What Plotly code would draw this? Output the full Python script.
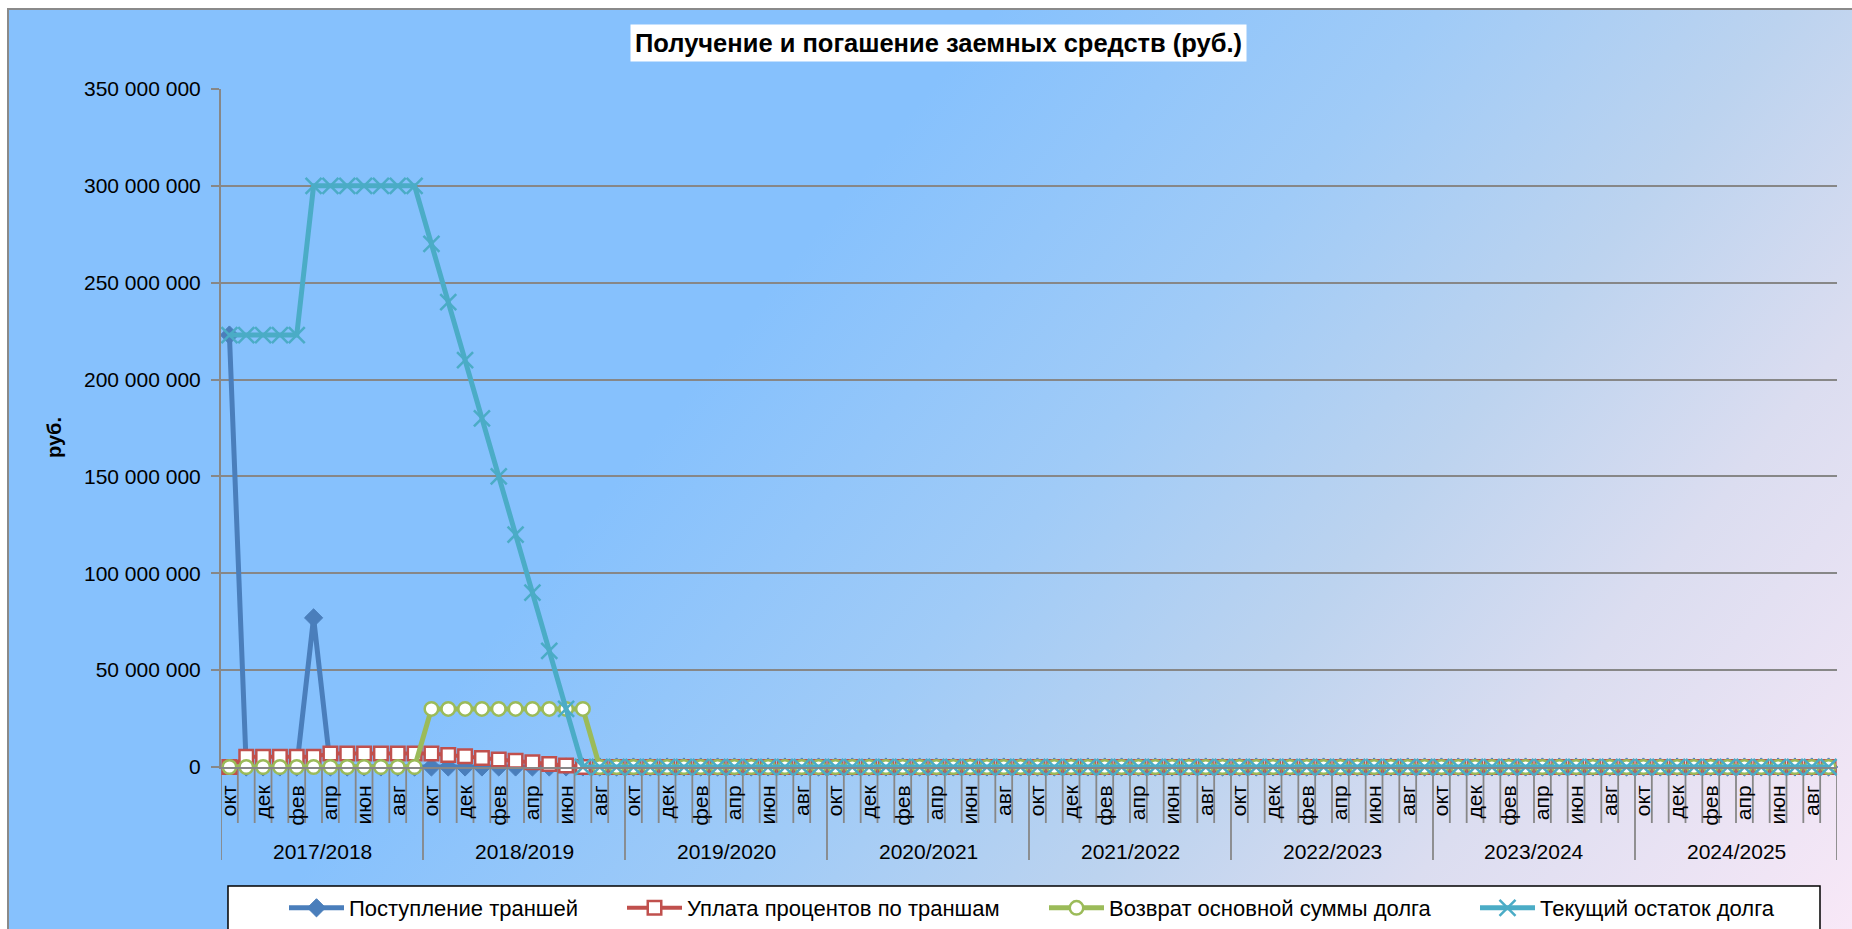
import base64
import numpy as np
import plotly.graph_objects as go

# ---------------- data ----------------
years = ["2017/2018", "2018/2019", "2019/2020", "2020/2021",
         "2021/2022", "2022/2023", "2023/2024", "2024/2025"]
months = ["окт", "ноя", "дек", "янв", "фев", "мар",
          "апр", "май", "июн", "июл", "авг", "сен"]
months_shown = ["окт", "дек", "фев", "апр", "июн", "авг"]

# Поступление траншей (руб.), one row per year (окт..сен)
tranches = [
    [223000000, 0, 0, 0, 0, 77000000, 0, 0, 0, 0, 0, 0],
    [0, 0, 0, 0, 0, 0, 0, 0, 0, 0, 0, 0],
    [0, 0, 0, 0, 0, 0, 0, 0, 0, 0, 0, 0],
    [0, 0, 0, 0, 0, 0, 0, 0, 0, 0, 0, 0],
    [0, 0, 0, 0, 0, 0, 0, 0, 0, 0, 0, 0],
    [0, 0, 0, 0, 0, 0, 0, 0, 0, 0, 0, 0],
    [0, 0, 0, 0, 0, 0, 0, 0, 0, 0, 0, 0],
    [0, 0, 0, 0, 0, 0, 0, 0, 0, 0, 0, 0],
]
# Уплата процентов по траншам
interest = [
    [0, 5300000, 5300000, 5300000, 5300000, 5300000,
     7000000, 7000000, 7000000, 7000000, 7000000, 7000000],
    [7000000, 6200000, 5500000, 4700000, 3900000, 3200000,
     2400000, 1600000, 800000, 0, 0, 0],
    [0, 0, 0, 0, 0, 0, 0, 0, 0, 0, 0, 0],
    [0, 0, 0, 0, 0, 0, 0, 0, 0, 0, 0, 0],
    [0, 0, 0, 0, 0, 0, 0, 0, 0, 0, 0, 0],
    [0, 0, 0, 0, 0, 0, 0, 0, 0, 0, 0, 0],
    [0, 0, 0, 0, 0, 0, 0, 0, 0, 0, 0, 0],
    [0, 0, 0, 0, 0, 0, 0, 0, 0, 0, 0, 0],
]
# Возврат основной суммы долга
principal = [
    [0, 0, 0, 0, 0, 0, 0, 0, 0, 0, 0, 0],
    [30000000, 30000000, 30000000, 30000000, 30000000, 30000000,
     30000000, 30000000, 30000000, 30000000, 0, 0],
    [0, 0, 0, 0, 0, 0, 0, 0, 0, 0, 0, 0],
    [0, 0, 0, 0, 0, 0, 0, 0, 0, 0, 0, 0],
    [0, 0, 0, 0, 0, 0, 0, 0, 0, 0, 0, 0],
    [0, 0, 0, 0, 0, 0, 0, 0, 0, 0, 0, 0],
    [0, 0, 0, 0, 0, 0, 0, 0, 0, 0, 0, 0],
    [0, 0, 0, 0, 0, 0, 0, 0, 0, 0, 0, 0],
]
# Текущий остаток долга
balance = [
    [223000000, 223000000, 223000000, 223000000, 223000000, 300000000,
     300000000, 300000000, 300000000, 300000000, 300000000, 300000000],
    [270000000, 240000000, 210000000, 180000000, 150000000, 120000000,
     90000000, 60000000, 30000000, 0, 0, 0],
    [0, 0, 0, 0, 0, 0, 0, 0, 0, 0, 0, 0],
    [0, 0, 0, 0, 0, 0, 0, 0, 0, 0, 0, 0],
    [0, 0, 0, 0, 0, 0, 0, 0, 0, 0, 0, 0],
    [0, 0, 0, 0, 0, 0, 0, 0, 0, 0, 0, 0],
    [0, 0, 0, 0, 0, 0, 0, 0, 0, 0, 0, 0],
    [0, 0, 0, 0, 0, 0, 0, 0, 0, 0, 0, 0],
]

series_names = ["Поступление траншей", "Уплата процентов по траншам",
                "Возврат основной суммы долга", "Текущий остаток долга"]
title_text = "Получение и погашение заемных средств (руб.)"
y_title = "руб."

# ---------------- geometry ----------------
W, H = 1852, 929
L, R, T, B = 221, 15, 89, 162
PW = W - L - R
PH = H - T - B


def pxx(X):
    return (X - L) / PW


def pxy(Y):
    return (H - B - Y) / PH


def flat(rows):
    return [v for row in rows for v in row]


cat_months = [m for _ in years for m in months]
n = len(cat_months)
x = np.arange(n)
tickvals = [i for i, m in enumerate(cat_months) if m in months_shown]
ticktext = [cat_months[i] for i in tickvals]

FONT = "Liberation Sans, Arial, sans-serif"
GRAY = "#878787"

# ---------------- background (gradient) ----------------
svg = (
    '<svg xmlns="http://www.w3.org/2000/svg" width="1852" height="929" '
    'viewBox="0 0 1852 929" preserveAspectRatio="none">'
    '<defs><linearGradient id="g" gradientUnits="userSpaceOnUse" '
    'x1="610" y1="488" x2="1585" y2="1268">'
    '<stop offset="0" stop-color="rgb(134,193,253)"/>'
    '<stop offset="0.28" stop-color="rgb(160,203,247)"/>'
    '<stop offset="0.5" stop-color="rgb(188,211,239)"/>'
    '<stop offset="0.7" stop-color="rgb(219,221,240)"/>'
    '<stop offset="1" stop-color="rgb(248,232,247)"/>'
    '</linearGradient></defs>'
    '<rect x="0" y="0" width="1852" height="929" fill="white"/>'
    '<rect x="8" y="9" width="1850" height="925" fill="url(#g)"/>'
    '<path d="M8,929 V9 H1852" stroke="#8a8a8a" stroke-width="2" fill="none"/>'
    '</svg>'
)
svg_uri = "data:image/svg+xml;base64," + base64.b64encode(svg.encode("utf-8")).decode("ascii")

fig = go.Figure()

styles = [
    dict(line=dict(color="#4A7EBB", width=5),
         marker=dict(symbol="diamond", size=14, color="#4A7EBB",
                     line=dict(color="#4A7EBB", width=1))),
    dict(line=dict(color="#C0504D", width=4),
         marker=dict(symbol="square", size=13.5, color="white",
                     line=dict(color="#C0504D", width=2.5))),
    dict(line=dict(color="#9BBB59", width=5),
         marker=dict(symbol="circle", size=13.5, color="white",
                     line=dict(color="#9BBB59", width=2.5))),
    dict(line=dict(color="#4BACC6", width=5),
         marker=dict(symbol="x-thin", size=16, color="#4BACC6",
                     line=dict(color="#4BACC6", width=2.5))),
]
data_rows = [tranches, interest, principal, balance]
legend_ids = ["legend", "legend2", "legend3", "legend4"]

for name, rows, st, lg in zip(series_names, data_rows, styles, legend_ids):
    fig.add_trace(go.Scatter(
        x=x, y=flat(rows), name=name, mode="lines+markers",
        line=st["line"], marker=st["marker"], cliponaxis=False,
        legend=lg, hoverinfo="y"))

# separators under the category axis
shapes = []
for b in range(n + 1):
    is_year = (b % len(months) == 0)
    shapes.append(dict(
        type="line", xref="x", yref="paper", layer="below",
        x0=b - 0.5, x1=b - 0.5, y0=0, y1=pxy(860 if is_year else 823),
        line=dict(color=GRAY, width=1.8)))
# legend frame
shapes.append(dict(type="rect", xref="paper", yref="paper", layer="below",
                   x0=pxx(228), x1=pxx(1820), y0=pxy(886), y1=pxy(945),
                   fillcolor="white", line=dict(color="black", width=1.5)))

annotations = []
for k, yname in enumerate(years):
    annotations.append(dict(
        x=k * len(months) + (len(months) - 1) / 2, xref="x",
        y=pxy(851), yref="paper", text=yname, showarrow=False,
        xanchor="center", yanchor="middle",
        font=dict(family=FONT, size=21, color="black")))
annotations.append(dict(
    x=pxx(938), y=pxy(43), xref="paper", yref="paper",
    text="<b>" + title_text + "</b>", showarrow=False,
    xanchor="center", yanchor="middle", bgcolor="white", borderpad=4,
    font=dict(family=FONT, size=25.5, color="black")))
annotations.append(dict(
    x=pxx(54), y=pxy(438), xref="paper", yref="paper",
    text="<b>" + y_title + "</b>", showarrow=False, textangle=-90,
    xanchor="center", yanchor="middle",
    font=dict(family=FONT, size=20, color="black")))

legend_x = [284, 622, 1044, 1475]
legend_common = dict(orientation="h", bgcolor="rgba(0,0,0,0)", borderwidth=0,
                     itemwidth=55, xanchor="left", yanchor="middle",
                     font=dict(family=FONT, size=22, color="black"))

layout_legends = {}
for lg, lx in zip(legend_ids, legend_x):
    layout_legends[lg] = dict(x=pxx(lx), y=pxy(908), **legend_common)

fig.update_layout(
    width=W, height=H,
    margin=dict(l=L, r=R, t=T, b=B, autoexpand=False),
    paper_bgcolor="white", plot_bgcolor="rgba(0,0,0,0)",
    font=dict(family=FONT, size=20, color="black"),
    separators=", ",
    showlegend=True,
    images=[dict(source=svg_uri, xref="paper", yref="paper",
                 x=pxx(0), y=pxy(0), sizex=W / PW, sizey=H / PH,
                 xanchor="left", yanchor="top", sizing="stretch",
                 layer="below")],
    shapes=shapes,
    annotations=annotations,
    xaxis=dict(range=[-0.5, n - 0.5], tickmode="array", tickvals=tickvals,
               ticktext=ticktext, tickangle=-90, ticks="", showgrid=False,
               zeroline=False, showline=True, linecolor=GRAY, linewidth=2,
               tickfont=dict(family=FONT, size=21, color="black"),
               ticklabelstandoff=8, fixedrange=True),
    yaxis=dict(range=[0, 350000000], tick0=0, dtick=50000000,
               tickformat=",d", showgrid=True, gridcolor=GRAY, gridwidth=2,
               zeroline=False, showline=True, linecolor=GRAY, linewidth=2,
               ticks="outside", ticklen=8, tickwidth=2, tickcolor=GRAY,
               tickfont=dict(family=FONT, size=21, color="black"),
               ticklabelstandoff=6, fixedrange=True),
    **layout_legends,
)

fig.write_html(
    "out.html",
    config={"displayModeBar": False},
    post_script="document.body.style.margin='0';document.body.style.overflow='hidden';",
)
